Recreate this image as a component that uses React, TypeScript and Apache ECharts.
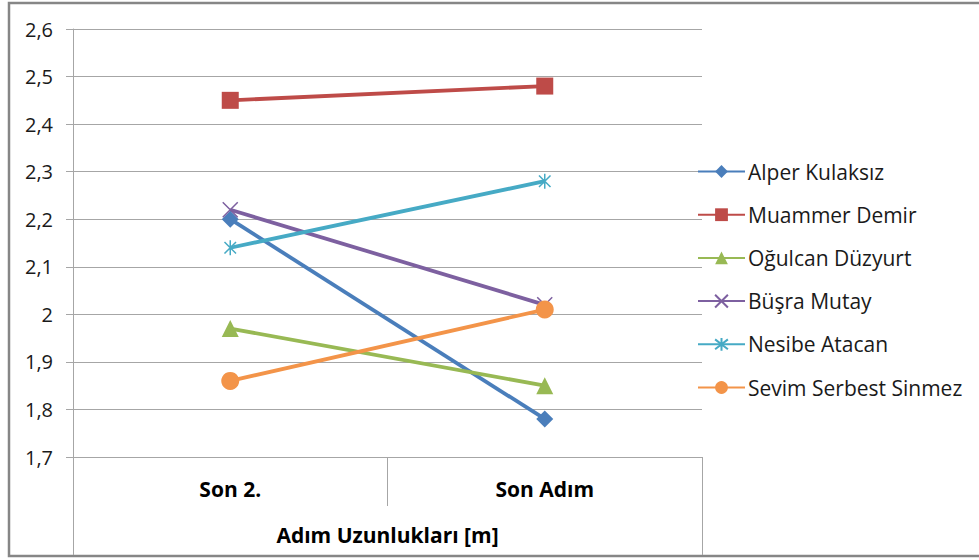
import React, { useEffect, useRef } from "react";
import * as echarts from "echarts";

const categories = ["Son 2.", "Son Adım"];
const axisTitle = "Adım Uzunlukları [m]";
const seriesNames = [
  "Alper Kulaksız",
  "Muammer Demir",
  "Oğulcan Düzyurt",
  "Büşra Mutay",
  "Nesibe Atacan",
  "Sevim Serbest Sinmez",
];
const alper = [2.2, 1.78];
const muammer = [2.45, 2.48];
const ogulcan = [1.97, 1.85];
const busra = [2.22, 2.02];
const nesibe = [2.14, 2.28];
const sevim = [1.86, 2.01];
const yMin = 1.7;
const yMax = 2.6;
const yStep = 0.1;

const colors = ["#4A7EBB", "#BE4B48", "#98B954", "#7D60A0", "#46AAC5", "#F39449"];
const FONT = "'Open Sans', sans-serif";

const crossPath = "path://M0,0L10,10M10,0L0,10";
const starPath = "path://M0,0L10,10M10,0L0,10M5,-1.5L5,11.5";

export default function App() {
  const ref = useRef<HTMLDivElement>(null);
  useEffect(() => {
    if (!ref.current) return;
    const chart = echarts.init(ref.current, undefined, { renderer: "svg" });
    const gl = 73, gt = 29, gr = 702, gb = 457;
    const values = [alper, muammer, ogulcan, busra, nesibe, sevim];
    const symbols = ["diamond", "rect", "triangle", crossPath, starPath, "circle"];
    const sizes = [17, 17, 17, 15, 15, 18];
    const series = values.map((d, i) => {
      const stroked = i === 3 || i === 4;
      return {
        name: seriesNames[i],
        type: "line",
        data: d,
        symbol: symbols[i],
        symbolSize: sizes[i],
        showSymbol: true,
        symbolKeepAspect: true,
        lineStyle: { color: colors[i], width: 3.8 },
        itemStyle: stroked
          ? { color: "rgba(0,0,0,0)", borderColor: colors[i], borderWidth: 1.5 }
          : { color: colors[i], borderWidth: 0 },
        color: colors[i],
        emphasis: { disabled: true },
      };
    });
    chart.setOption({
      animation: false,
      textStyle: { fontFamily: FONT },
      grid: { left: gl, top: gt, right: 979 - gr, bottom: 560 - gb, containLabel: false },
      legend: {
        orient: "vertical",
        left: 692,
        top: 156,
        padding: 5,
        itemWidth: 47,
        itemHeight: 16,
        itemGap: 22.2,
        textStyle: {
          fontSize: 21,
          lineHeight: 20,
          color: "#1a1a1a",
          fontFamily: FONT,
          padding: [0, 0, 0, -2],
        },
        data: seriesNames,
      },
      xAxis: {
        type: "category",
        data: categories,
        boundaryGap: true,
        name: axisTitle,
        nameLocation: "middle",
        nameGap: 67,
        nameTextStyle: { fontSize: 21, fontWeight: "bold", color: "#000", fontFamily: FONT },
        axisLine: { show: true, lineStyle: { color: "#A6A6A6", width: 1 } },
        axisTick: { show: true, length: 49, inside: false, alignWithLabel: false, lineStyle: { color: "#A6A6A6" } },
        axisLabel: { fontSize: 21, fontWeight: "bold", color: "#000", margin: 21, fontFamily: FONT },
        splitLine: { show: false },
      },
      yAxis: {
        type: "value",
        min: yMin,
        max: yMax,
        interval: yStep,
        axisLine: { show: true, lineStyle: { color: "#A6A6A6", width: 1 } },
        axisTick: { show: true, length: 7, lineStyle: { color: "#A6A6A6" } },
        axisLabel: {
          fontSize: 20,
          color: "#1a1a1a",
          margin: 20,
          fontFamily: FONT,
          formatter: (v: number) => String(Number(v.toFixed(1))).replace(".", ","),
        },
        splitLine: { show: true, lineStyle: { color: "#A6A6A6", width: 1 } },
      },
      graphic: [
        {
          type: "rect",
          shape: { x: 9, y: 3, width: 990, height: 553 },
          style: { fill: "none", stroke: "#868686", lineWidth: 2.5 },
          silent: true,
        },
        {
          type: "line",
          shape: { x1: gl + 0.5, y1: gb, x2: gl + 0.5, y2: 555 },
          style: { stroke: "#A6A6A6", lineWidth: 1 },
          silent: true,
        },
        {
          type: "line",
          shape: { x1: gr + 0.5, y1: gb, x2: gr + 0.5, y2: 555 },
          style: { stroke: "#A6A6A6", lineWidth: 1 },
          silent: true,
        },
      ],
      series,
    });
    return () => chart.dispose();
  }, []);
  return (
    <div
      ref={ref}
      style={{ position: "absolute", left: 0, top: 0, width: 979, height: 560, background: "#fff" }}
    />
  );
}
